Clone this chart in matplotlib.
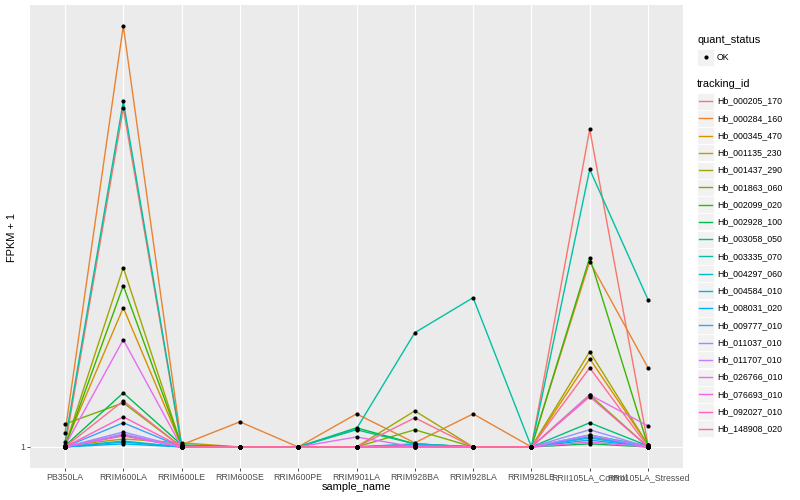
"""
FPKM + 1 profiles of 20 tracking ids across 11 rubber-tree samples
(ggplot2-style line chart, log10 y axis).
"""

import numpy as np
import matplotlib.pyplot as plt
from matplotlib.patches import Rectangle

plt.rcParams['font.family'] = ['Liberation Sans', 'DejaVu Sans']

# ---------------------------------------------------------------------------
# Data
# ---------------------------------------------------------------------------
samples = [
    "PB350LA", "RRIM600LA", "RRIM600LE", "RRIM600SE", "RRIM600PE",
    "RRIM901LA", "RRIM928BA", "RRIM928LA", "RRIM928LE",
    "RRII105LA_Control", "RRII105LA_Stressed",
]

tracking_ids = [
    "Hb_000205_170", "Hb_000284_160", "Hb_000345_470", "Hb_001135_230",
    "Hb_001437_290", "Hb_001863_060", "Hb_002099_020", "Hb_002928_100",
    "Hb_003058_050", "Hb_003335_070", "Hb_004297_060", "Hb_004584_010",
    "Hb_008031_020", "Hb_009777_010", "Hb_011037_010", "Hb_011707_010",
    "Hb_026766_010", "Hb_076693_010", "Hb_092027_010", "Hb_148908_020",
]

# ggplot2 default hue palette for 20 levels
hue_colors = [
    "#F8766D", "#EA8331", "#D89000", "#C09B00", "#A3A500", "#7CAE00",
    "#39B600", "#00BB4E", "#00BF7D", "#00C1A3", "#00BFC4", "#00BAE0",
    "#00B0F6", "#35A2FF", "#9590FF", "#C77CFF", "#E76BF3", "#FA62DB",
    "#FF62BC", "#FF6C91",
]

# FPKM + 1, one list per tracking id, in sample order
hb_000205_170 = [1.000, 3.659, 1.000, 1.000, 1.000, 1.000, 1.004, 1.000, 1.000, 3.376, 1.008]
hb_000284_160 = [1.055, 5.012, 1.008, 1.101, 1.000, 1.135, 1.016, 1.135, 1.000, 2.034, 1.354]
hb_000345_470 = [1.008, 1.705, 1.004, 1.000, 1.000, 1.000, 1.004, 1.000, 1.000, 1.402, 1.008]
hb_001135_230 = [1.004, 1.031, 1.016, 1.000, 1.000, 1.000, 1.004, 1.000, 1.000, 1.039, 1.004]
hb_001437_290 = [1.004, 1.988, 1.004, 1.000, 1.000, 1.000, 1.148, 1.000, 1.000, 1.440, 1.008]
hb_001863_060 = [1.092, 1.184, 1.000, 1.000, 1.000, 1.000, 1.068, 1.000, 1.000, 1.221, 1.000]
hb_002099_020 = [1.000, 1.855, 1.004, 1.000, 1.000, 1.000, 1.004, 1.000, 1.000, 2.065, 1.004]
hb_002928_100 = [1.004, 1.230, 1.008, 1.000, 1.000, 1.076, 1.012, 1.000, 1.000, 1.012, 1.000]
hb_003058_050 = [1.000, 1.047, 1.000, 1.000, 1.000, 1.068, 1.012, 1.000, 1.000, 1.097, 1.004]
hb_003335_070 = [1.019, 3.758, 1.004, 1.000, 1.000, 1.072, 1.549, 1.771, 1.000, 2.895, 1.758]
hb_004297_060 = [1.000, 1.023, 1.000, 1.000, 1.000, 1.000, 1.012, 1.000, 1.000, 1.047, 1.004]
hb_004584_010 = [1.000, 1.019, 1.000, 1.000, 1.000, 1.000, 1.008, 1.000, 1.000, 1.035, 1.000]
hb_008031_020 = [1.000, 1.012, 1.000, 1.000, 1.000, 1.000, 1.004, 1.000, 1.000, 1.027, 1.000]
hb_009777_010 = [1.000, 1.097, 1.000, 1.000, 1.000, 1.000, 1.008, 1.000, 1.000, 1.039, 1.000]
hb_011037_010 = [1.000, 1.059, 1.000, 1.000, 1.000, 1.000, 1.000, 1.000, 1.000, 1.068, 1.000]
hb_011707_010 = [1.000, 1.051, 1.000, 1.000, 1.000, 1.000, 1.000, 1.000, 1.000, 1.047, 1.000]
hb_026766_010 = [1.004, 1.508, 1.000, 1.000, 1.000, 1.039, 1.000, 1.000, 1.000, 1.221, 1.084]
hb_076693_010 = [1.000, 1.043, 1.000, 1.000, 1.000, 1.000, 1.000, 1.000, 1.000, 1.019, 1.000]
hb_092027_010 = [1.000, 1.122, 1.000, 1.000, 1.000, 1.000, 1.004, 1.000, 1.000, 1.212, 1.000]
hb_148908_020 = [1.000, 1.193, 1.000, 1.000, 1.000, 1.000, 1.118, 1.000, 1.000, 1.354, 1.000]

series = [
    hb_000205_170, hb_000284_160, hb_000345_470, hb_001135_230, hb_001437_290,
    hb_001863_060, hb_002099_020, hb_002928_100, hb_003058_050, hb_003335_070,
    hb_004297_060, hb_004584_010, hb_008031_020, hb_009777_010, hb_011037_010,
    hb_011707_010, hb_026766_010, hb_076693_010, hb_092027_010, hb_148908_020,
]

# ---------------------------------------------------------------------------
# Figure / panel (ggplot2 theme_grey look)
# ---------------------------------------------------------------------------
W, H = 800, 500
fig = plt.figure(figsize=(W / 100, H / 100), dpi=100)
fig.patch.set_facecolor("white")

px_l, px_r, px_t, px_b = 30, 683, 5, 468
ax = fig.add_axes([px_l / W, 1 - px_b / H, (px_r - px_l) / W, (px_b - px_t) / H])
ax.set_facecolor("#EBEBEB")
for s in ax.spines.values():
    s.set_visible(False)

x = np.arange(len(samples))
for vals, col in zip(series, hue_colors):
    ax.plot(x, vals, color=col, lw=1.0, solid_capstyle="butt", zorder=2)
for vals in series:
    ax.plot(x, vals, "o", color="black", ms=3.0, mew=0, zorder=3)

ax.set_yscale("log")
all_vals = np.concatenate([np.asarray(v) for v in series])
lo, hi = np.log10(all_vals.min()), np.log10(all_vals.max())
pad = 0.05 * (hi - lo)
ax.set_ylim(10 ** (lo - pad), 10 ** (hi + pad))
ax.set_xlim(-0.6, len(samples) - 1 + 0.6)

ax.set_yticks([1])
ax.set_yticklabels(["1"])
ax.yaxis.set_minor_locator(plt.NullLocator())
ax.set_xticks(x)
ax.set_xticklabels(samples)

ax.grid(True, which="major", color="white", lw=0.8)
ax.set_axisbelow(True)
ax.tick_params(axis="both", length=2, width=0.6, color="#333333",
               labelsize=6.3, labelcolor="#4D4D4D", pad=1.6)

fig.text(px_l / W + (px_r - px_l) / W / 2, 1 - 487 / H, "sample_name",
         ha="center", va="center", fontsize=7.9)
fig.text(12 / W, 1 - 237 / H, "FPKM + 1", rotation=90,
         ha="center", va="center", fontsize=7.9)

# ---------------------------------------------------------------------------
# Legends (pixel coordinates on an overlay axes)
# ---------------------------------------------------------------------------
lg = fig.add_axes([0, 0, 1, 1], facecolor="none")
lg.set_xlim(0, W)
lg.set_ylim(H, 0)
lg.axis("off")

key_x, key_w, key_h = 697, 17, 17
text_x = 717

lg.text(key_x, 40, "quant_status", ha="left", va="center", fontsize=7.9)
lg.add_patch(Rectangle((key_x, 57 - key_h / 2), key_w, key_h,
                       fc="#F2F2F2", ec="white", lw=0.6))
lg.plot(key_x + key_w / 2, 57, "o", color="black", ms=3.0, mew=0)
lg.text(text_x, 57, "OK", ha="left", va="center", fontsize=6.3)

lg.text(key_x, 84, "tracking_id", ha="left", va="center", fontsize=7.9)
y0, dy = 101, 17.26
for i, (name, col) in enumerate(zip(tracking_ids, hue_colors)):
    yc = y0 + i * dy
    lg.add_patch(Rectangle((key_x, yc - key_h / 2), key_w, key_h,
                           fc="#F2F2F2", ec="white", lw=0.6))
    lg.plot([key_x + 2, key_x + key_w - 2], [yc, yc], color=col, lw=1.0)
    lg.text(text_x, yc, name, ha="left", va="center", fontsize=6.3)

fig.savefig("out.png", dpi=100)
